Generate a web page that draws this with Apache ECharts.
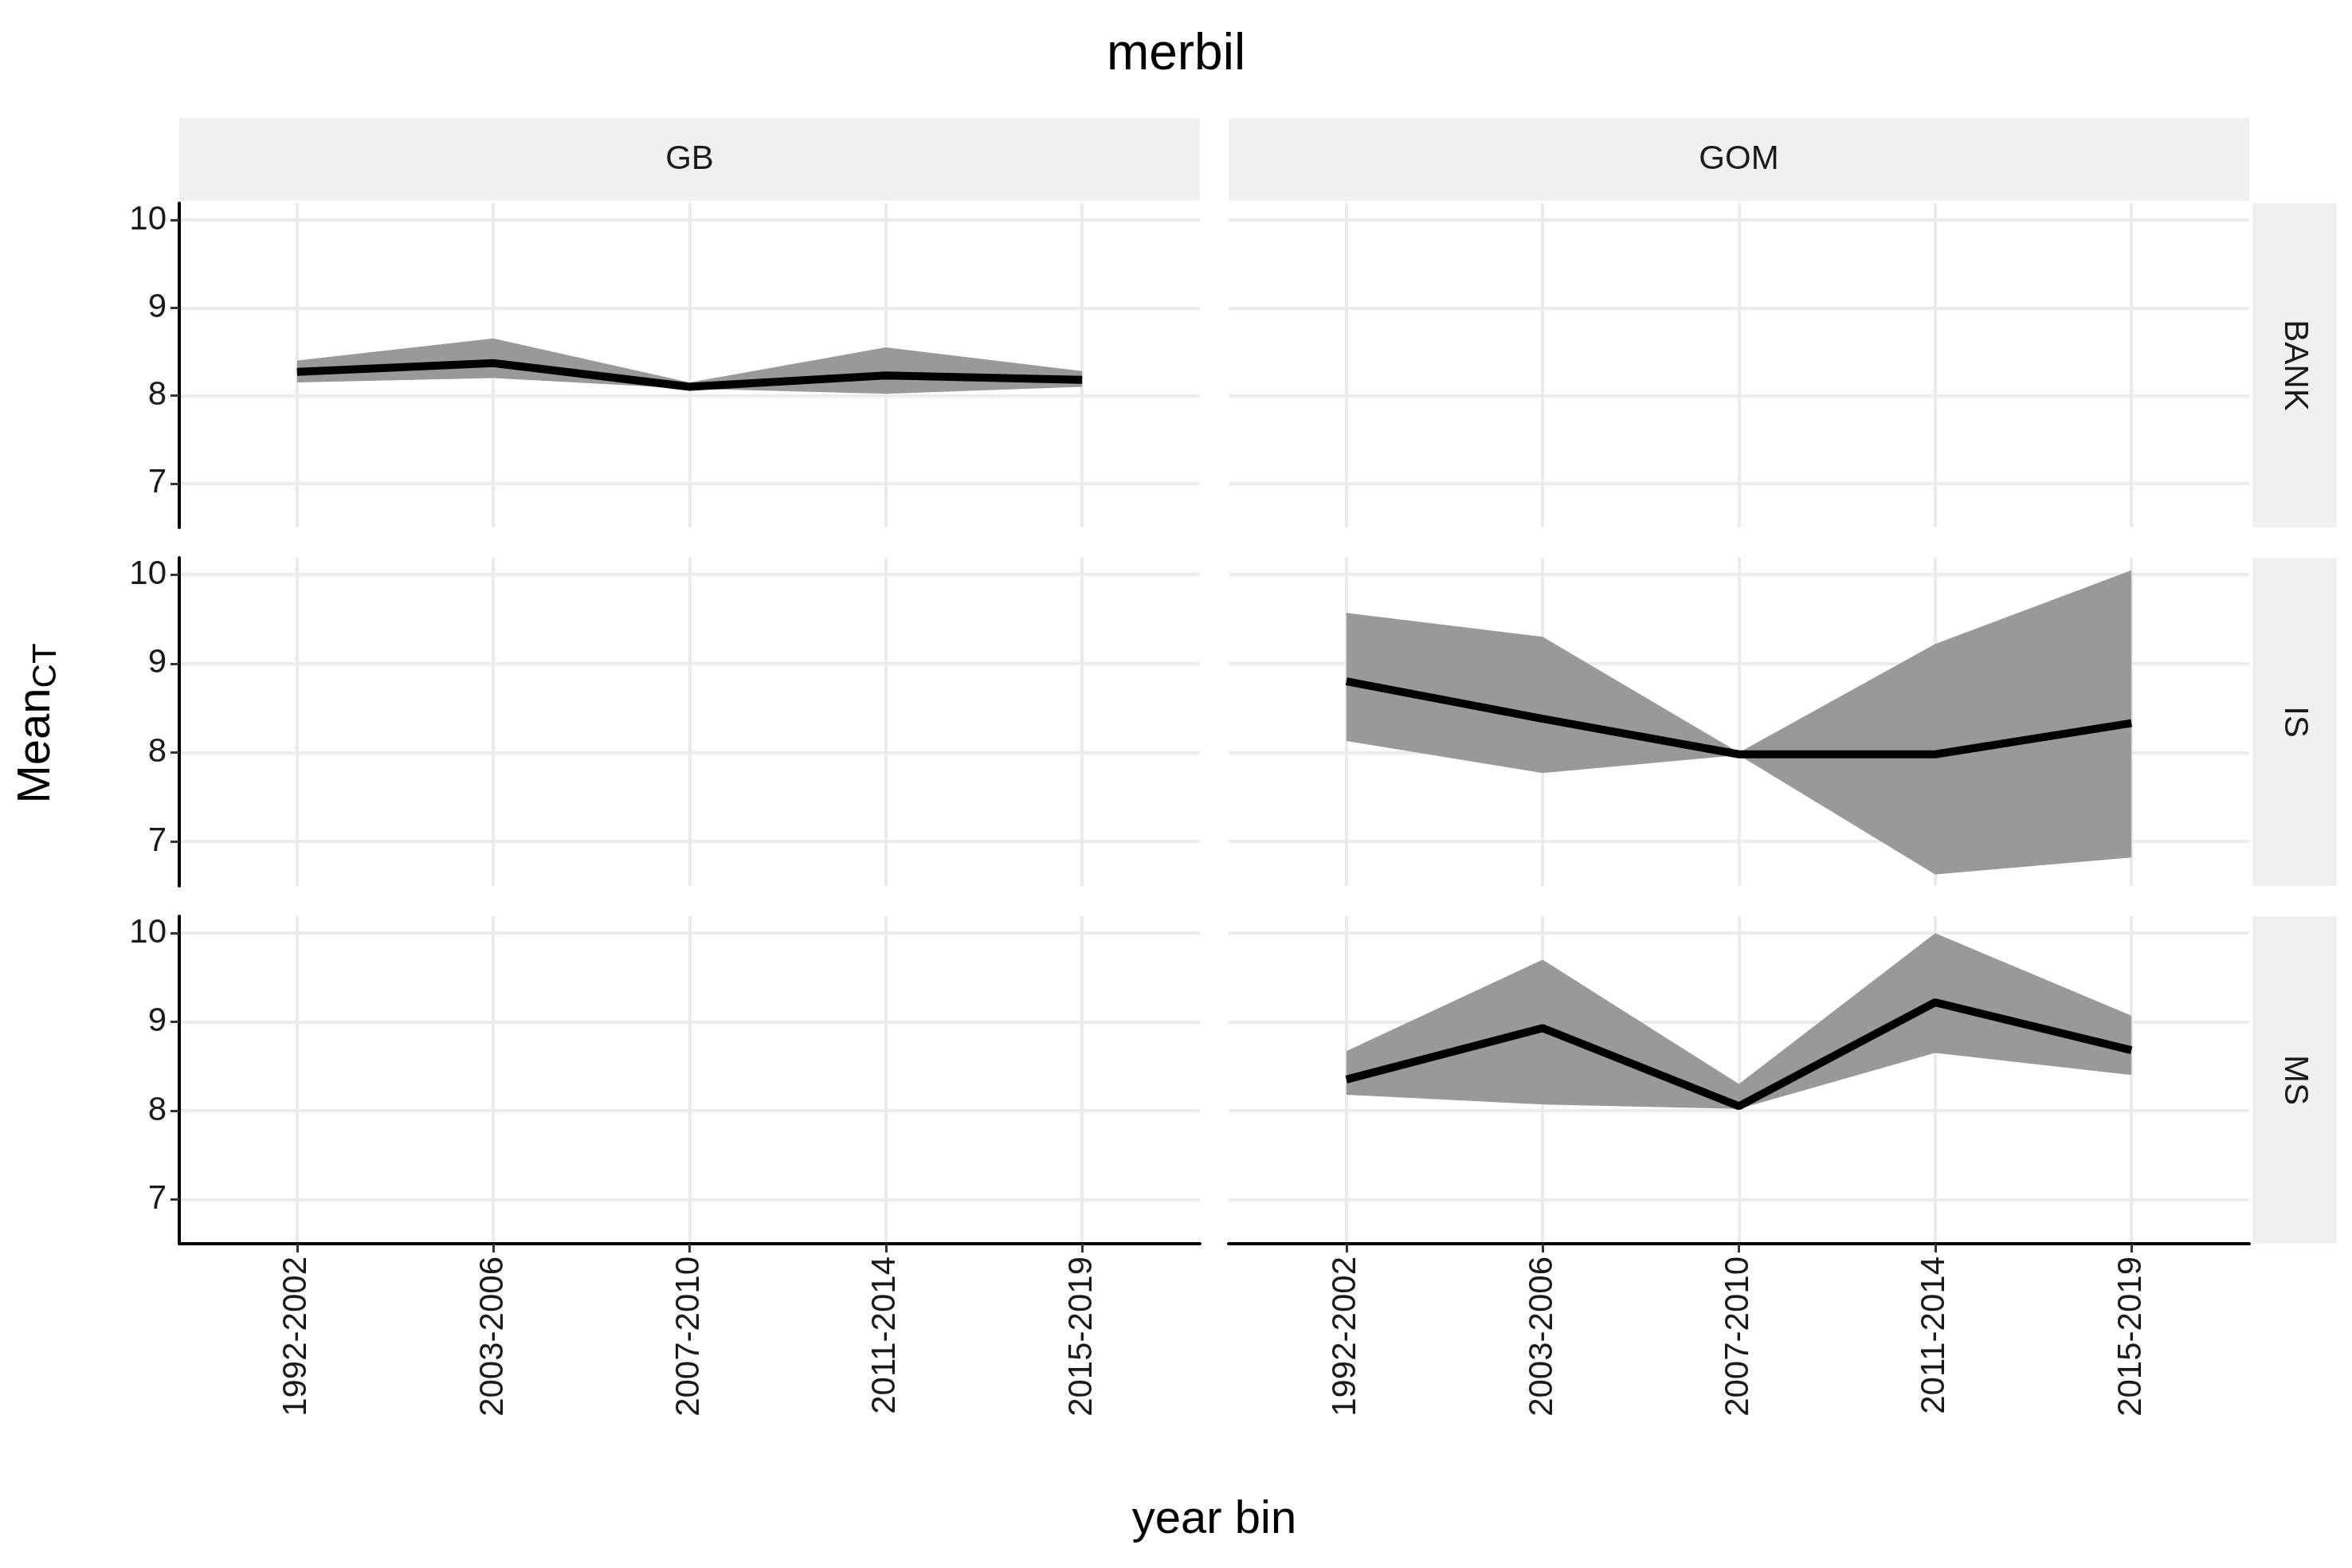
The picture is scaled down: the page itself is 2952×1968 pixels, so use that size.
<!DOCTYPE html>
<html>
<head>
<meta charset="utf-8">
<script src="https://cdn.jsdelivr.net/npm/echarts@6/dist/echarts.min.js"></script>
<style>html,body{margin:0;padding:0;background:#fff}#chart{width:2952px;height:1968px}</style>
</head>
<body>
<div id="chart"></div>
<script>
// merbil: mean CT per year bin, facet region x stratum
var bins = ['1992-2002', '2003-2006', '2007-2010', '2011-2014', '2015-2019'];
var cols = ['GB', 'GOM'];
var rows = ['BANK', 'IS', 'MS'];
var yTicks = [7, 8, 9, 10];
var xTicks = [0, 1, 2, 3, 4];

var gbBankMean = [8.27, 8.37, 8.10, 8.23, 8.18];
var gbBankLow  = [8.15, 8.20, 8.08, 8.02, 8.10];
var gbBankHigh = [8.40, 8.65, 8.15, 8.55, 8.28];

var gomIsMean = [8.80, 8.38, 7.98, 7.98, 8.33];
var gomIsLow  = [8.13, 7.77, 7.97, 6.63, 6.82];
var gomIsHigh = [9.57, 9.30, 8.00, 9.22, 10.05];

var gomMsMean = [8.35, 8.93, 8.05, 9.22, 8.68];
var gomMsLow  = [8.18, 8.07, 8.02, 8.65, 8.40];
var gomMsHigh = [8.67, 9.70, 8.30, 10.00, 9.07];

// panel key -> [mean, low, high]
var panels = {
    'GB-BANK': [gbBankMean, gbBankLow, gbBankHigh],
    'GOM-IS': [gomIsMean, gomIsLow, gomIsHigh],
    'GOM-MS': [gomMsMean, gomMsLow, gomMsHigh]
};

var colX = [[225, 1506], [1542, 2823]];
var rowY = [[255, 662], [700, 1112], [1150, 1561]];
var font = 'Liberation Sans, Arial, sans-serif';
var gridC = '#ebebeb';

var grid = [], xAxis = [], yAxis = [], series = [], graphic = [];
var gi = 0;
rows.forEach(function (r, ri) {
    cols.forEach(function (c, ci) {
        grid.push({left: colX[ci][0], width: colX[ci][1] - colX[ci][0],
                   top: rowY[ri][0], height: rowY[ri][1] - rowY[ri][0]});
        var bottom = ri === rows.length - 1, left = ci === 0;
        xAxis.push({
            type: 'value', gridIndex: gi, min: -0.6, max: 4.6,
            axisLine: {show: bottom, onZero: false, lineStyle: {color: '#000', width: 4}},
            axisTick: {show: bottom, length: 11, customValues: xTicks, lineStyle: {color: '#333', width: 3}},
            axisLabel: {show: bottom, rotate: 90, fontSize: 42, color: '#1a1a1a', fontFamily: font, margin: 16,
                        customValues: xTicks,
                        formatter: function (v) { return bins[Math.round(v)] || ''; }},
            splitLine: {show: true, lineStyle: {color: gridC, width: 4}}
        });
        yAxis.push({
            type: 'value', gridIndex: gi, min: 6.5, max: 10.19,
            axisLine: {show: left, onZero: false, lineStyle: {color: '#000', width: 4}},
            axisTick: {show: left, length: 11, customValues: yTicks, lineStyle: {color: '#333', width: 3}},
            axisLabel: {show: left, fontSize: 42, color: '#1a1a1a', fontFamily: font, margin: 16,
                        customValues: yTicks},
            splitLine: {show: true, lineStyle: {color: gridC, width: 4}}
        });
        var d = panels[c + '-' + r];
        if (d) {
            (function (mean, low, high, g) {
                series.push({
                    type: 'custom', xAxisIndex: g, yAxisIndex: g, silent: true, z: 2,
                    data: [[0, low[0]]],
                    renderItem: function (params, api) {
                        var pts = [];
                        for (var i = 0; i < high.length; i++) pts.push(api.coord([i, high[i]]));
                        for (var j = low.length - 1; j >= 0; j--) pts.push(api.coord([j, low[j]]));
                        return {type: 'polygon', shape: {points: pts}, style: {fill: '#999999'}};
                    }
                });
                series.push({
                    type: 'line', xAxisIndex: g, yAxisIndex: g, z: 3, symbol: 'none',
                    data: mean.map(function (v, i) { return [i, v]; }),
                    lineStyle: {color: '#000', width: 10}
                });
            })(d[0], d[1], d[2], gi);
        }
        gi++;
    });
});

// strips
cols.forEach(function (c, ci) {
    graphic.push({type: 'rect', shape: {x: colX[ci][0], y: 148, width: colX[ci][1] - colX[ci][0], height: 104},
                  style: {fill: '#f0f0f0'}});
    graphic.push({type: 'text', x: (colX[ci][0] + colX[ci][1]) / 2, y: 200,
                  style: {text: c, fontSize: 42, fill: '#1a1a1a', fontFamily: font, align: 'center', verticalAlign: 'middle'}});
});
rows.forEach(function (r, ri) {
    graphic.push({type: 'rect', shape: {x: 2827, y: rowY[ri][0], width: 106, height: rowY[ri][1] - rowY[ri][0]},
                  style: {fill: '#f0f0f0'}});
    graphic.push({type: 'text', x: 2880, y: (rowY[ri][0] + rowY[ri][1]) / 2, rotation: -Math.PI / 2,
                  style: {text: r, fontSize: 42, fill: '#1a1a1a', fontFamily: font, align: 'center', verticalAlign: 'middle'}});
});
graphic.push({type: 'text', x: 1524, y: 1908,
              style: {text: 'year bin', fontSize: 58, fill: '#000', fontFamily: font, align: 'center', verticalAlign: 'middle'}});
graphic.push({type: 'text', x: 46, y: 908, rotation: Math.PI / 2,
              style: {text: '{a|Mean}{b|CT}', fill: '#000', fontFamily: font, align: 'center', verticalAlign: 'middle',
                      rich: {a: {fontSize: 58, fontFamily: font}, b: {fontSize: 42, fontFamily: font, verticalAlign: 'bottom', padding: [24, 0, 0, 0]}}}});

var chart = echarts.init(document.getElementById('chart'));
chart.setOption({
    backgroundColor: '#fff',
    animation: false,
    title: {text: 'merbil', left: 'center', top: 32,
            textStyle: {fontSize: 64, fontWeight: 'normal', color: '#000', fontFamily: font}},
    grid: grid, xAxis: xAxis, yAxis: yAxis, series: series, graphic: graphic
});
</script>
</body>
</html>
